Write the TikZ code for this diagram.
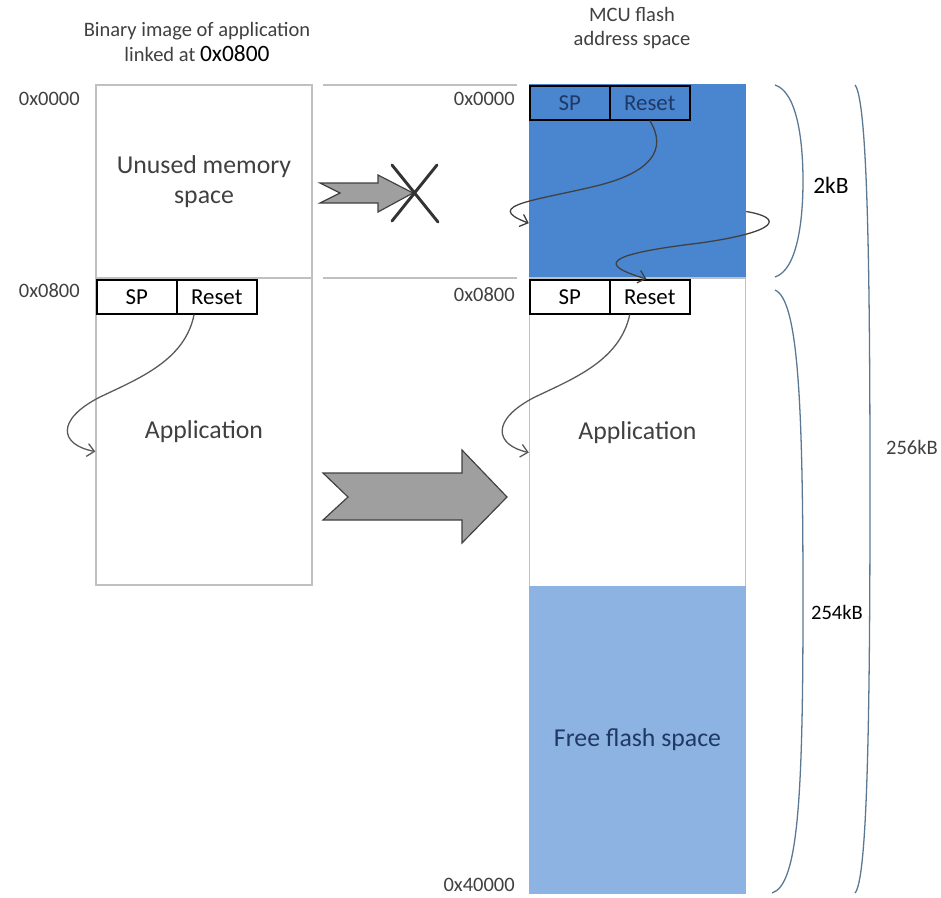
\documentclass[tikz,border=0pt]{standalone}
\usepackage{fontspec}
\setmainfont{Carlito}
\usetikzlibrary{arrows.meta}
\definecolor{flashblue}{HTML}{4A86D0}
\definecolor{freeblue}{HTML}{8DB3E2}
\definecolor{navytext}{HTML}{1F3864}
\definecolor{boxgray}{HTML}{C0C0C0}
\definecolor{bracecol}{HTML}{5B7893}
\definecolor{txtgray}{HTML}{404040}
\tikzset{
  region/.style={draw=boxgray, line width=1.2pt, inner sep=0pt, text=txtgray,
    minimum width=6.48cm, font=\fontsize{22}{26}\selectfont, align=center},
  cell/.style={draw=black, line width=1.3pt, fill=white, minimum width=2.4cm,
    minimum height=1.02cm, inner sep=0pt, anchor=north west, font=\fontsize{19.5}{21}\selectfont},
  addr/.style={anchor=east, inner sep=0pt, text=txtgray, font=\fontsize{17.5}{20}\selectfont},
  jump/.style={line width=1.1pt, -{Straight Barb[length=6pt,width=11pt]}},
  brace/.style={draw=bracecol, line width=1.1pt},
  bigarrow/.style={fill=gray!75, draw=gray!50!black, line width=1pt}
}
\begin{document}
\begin{tikzpicture}[x=0.03cm,y=-0.03cm]
    \useasboundingbox (0,0) rectangle (941,898);
    % titles
    \node[align=center, text=txtgray, font=\fontsize{17.5}{21}\selectfont] (ltitle) at (197,42)
        {Binary image of application\\linked at {\fontsize{20}{21}\selectfont\color{black}0x0800}};
    \node[align=center, text=txtgray, font=\fontsize{17.5}{21}\selectfont] (rtitle) at (632,28)
        {MCU flash\\address space};
    % binary image (left column)
    \node[region, minimum height=5.79cm] (lunused) at (204,181.5) {Unused memory\\space};
    \node[region, minimum height=9.21cm] (lapp) at (204,431.5) {Application};
    \node[cell] (lsp) at (96,279) {SP};
    \node[cell] (lreset) at (176,279) {Reset};
    \node[addr] (laddr0) at (80,99) {0x0000};
    \node[addr] (laddr8) at (80,291) {0x0800};
    % flash address space (right column)
    \node[region, fill=flashblue, draw=flashblue, minimum height=5.79cm] (ftop) at (637.5,181.5) {};
    \node[region, minimum height=9.27cm] (fapp) at (637.5,432.5) {Application};
    \node[region, fill=freeblue, draw=freeblue, text=navytext, minimum height=9.18cm] (ffree) at (637.5,740) {Free flash space};
    \node[cell, fill=flashblue, text=navytext] (fsp0) at (529,85) {SP};
    \node[cell, fill=flashblue, text=navytext] (freset0) at (609,85) {Reset};
    \node[cell] (fsp8) at (529,279) {SP};
    \node[cell] (freset8) at (609,279) {Reset};
    \node[addr] (faddr0) at (515,99) {0x0000};
    \node[addr] (faddr8) at (515,295) {0x0800};
    \node[addr] (faddr40) at (515,885) {0x40000};
    % address guide lines
    \draw[boxgray, line width=1.2pt] (323,85) -- (517,85);
    \draw[boxgray, line width=1.2pt] (323,278) -- (517,278);
    % copy arrows
    \filldraw[bigarrow] (320,183) -- (378,183) -- (378,175) -- (413,193) -- (378,212) -- (378,203) -- (320,203) -- (340,193) -- cycle;
    \draw[line width=2.5pt, black!80, line cap=round] (392,165) -- (438,222) (437,165) -- (392,221);% not copied
    \filldraw[bigarrow] (323,473) -- (462,473) -- (462,450) -- (507,497) -- (462,543) -- (462,520) -- (323,520) -- (348,497) -- cycle;
    % reset vectors
    \draw[jump, gray!70!black] ([xshift=-0.68cm]lreset.south) .. controls (185,360) and (140,378) .. (100,397)
        .. controls (55,420) and (60,445) .. ([yshift=-0.6cm]lapp.west);
    \draw[jump, gray!70!black] ([xshift=-0.6cm]freset8.south) .. controls (620,360) and (575,378) .. (535,397)
        .. controls (490,420) and (495,445) .. ([yshift=-0.6cm]fapp.west);
    \draw[jump, black!75] (freset0.south) .. controls (668,150) and (650,172) .. (600,185)
        .. controls (540,200) and (480,205) .. ([yshift=-1.25cm]ftop.west);
    \draw[jump, black!75] ([yshift=-0.9cm]ftop.east) .. controls (785,218) and (778,232) .. (700,243)
        .. controls (600,255) and (600,265) .. ([xshift=-0.1cm]freset8.north);
    % sizes
    \draw[brace] (775,85) .. controls (797,92) and (803,140) .. (803,181) .. controls (803,222) and (797,270) .. (775,277);
    \node[text=black, font=\fontsize{20}{22}\selectfont] (size2) at (831,185) {2kB};
    \draw[brace] (775,290) .. controls (798,300) and (803,400) .. (803,600) .. controls (803,800) and (798,885) .. (772,893);
    \node[text=black, font=\fontsize{17.5}{20}\selectfont] (size254) at (837,612) {254kB};
    \draw[brace] (855,85) .. controls (867,100) and (870,250) .. (870,489) .. controls (870,730) and (867,880) .. (855,893);
    \node[text=txtgray, font=\fontsize{17.5}{20}\selectfont] (size256) at (912,447) {256kB};
\end{tikzpicture}
\end{document}
